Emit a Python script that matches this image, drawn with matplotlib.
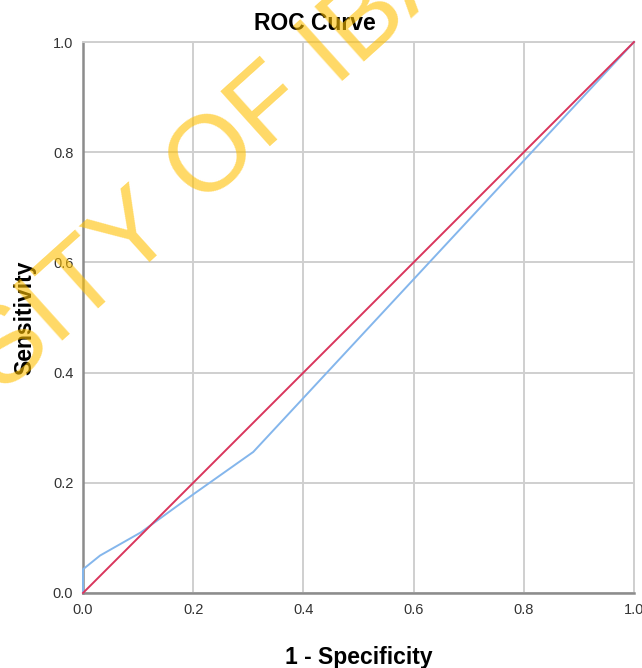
import matplotlib
matplotlib.use('Agg')
import matplotlib.pyplot as plt

# ROC data
fpr = [0.0, 0.0, 0.031, 0.105, 0.2, 0.309, 1.0]
tpr = [0.0, 0.043, 0.068, 0.11, 0.179, 0.256, 1.0]
ref_x = [0.0, 1.0]
ref_y = [0.0, 1.0]
ticks = [0.0, 0.2, 0.4, 0.6, 0.8, 1.0]
tick_labels = ['0.0', '0.2', '0.4', '0.6', '0.8', '1.0']

plt.rcParams['font.family'] = ['Liberation Sans', 'DejaVu Sans']

W, H = 642, 668
fig = plt.figure(figsize=(W / 100, H / 100), dpi=100)
ax = fig.add_axes([83 / W, 1 - 593 / H, 551 / W, 551 / H])

ax.plot(fpr, tpr, color='#84B6EC', linewidth=1.4, zorder=3, clip_on=False)
ax.plot(ref_x, ref_y, color='#D9355C', linewidth=1.4, zorder=4, clip_on=False)

ax.set_xlim(0, 1)
ax.set_ylim(0, 1)
ax.set_xticks(ticks)
ax.set_yticks(ticks)
ax.set_xticklabels(tick_labels)
ax.set_yticklabels(tick_labels)
ax.tick_params(length=0, labelsize=10.5, labelcolor='#333333', pad=7)
ax.grid(True, color='#cfcfcf', linewidth=1.4)
ax.set_axisbelow(True)

for side in ['top', 'right']:
    ax.spines[side].set_color('#cfcfcf')
    ax.spines[side].set_linewidth(1.4)
for side in ['left', 'bottom']:
    ax.spines[side].set_color('#8c8c8c')
    ax.spines[side].set_linewidth(1.8)

ax.set_xlabel('1 - Specificity', fontsize=16.5, fontweight='bold', labelpad=21)
ax.set_ylabel('Sensitivity', fontsize=16.5, fontweight='bold', labelpad=12)
fig.text(315 / W, 1 - 30 / H, 'ROC Curve', fontsize=16.5, fontweight='bold',
         ha='center', va='baseline')

# watermark
wm = dict(fontsize=78, color='#FFC000', alpha=0.6, rotation=42,
          rotation_mode='anchor', va='baseline', zorder=10)
fig.text(179 / W, 1 - 228 / H, 'UNIVERSITY', ha='right', **wm)
fig.text(201 / W, 1 - 208 / H, 'OF IBADAN', ha='left', **wm)

fig.savefig('out.png', dpi=100)
